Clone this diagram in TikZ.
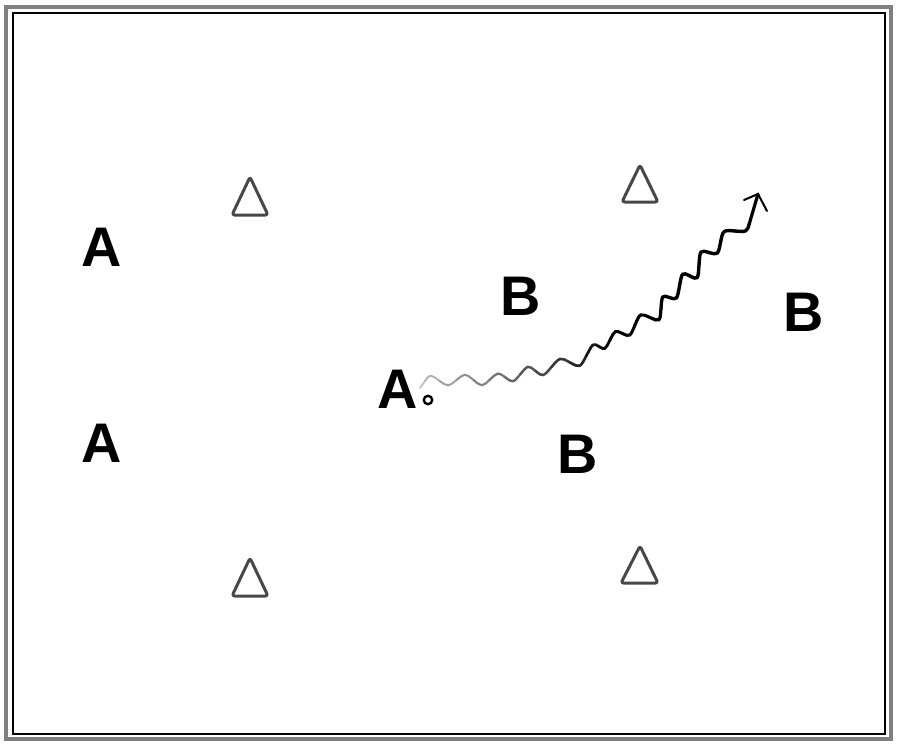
\documentclass[tikz,border=0pt]{standalone}
\usepackage{fontspec}
\setmainfont{Liberation Sans}
\begin{document}
\begin{tikzpicture}[x=1bp,y=-1bp,
  letter/.style={font=\fontsize{56}{56}\selectfont\bfseries, inner sep=0pt},
  cone/.style={draw=black!72, line width=3bp, rounded corners=2.5bp, line join=round}]
\useasboundingbox (0,0) rectangle (900,750);
% frame
\draw[black!50, line width=3.5bp] (6,7) rectangle (891,739);
\draw[black, line width=1.2bp] (13,13) rectangle (885,734);
% players
\node[letter] (a1) at (102,247) {A};
\node[letter] (a2) at (102,443) {A};
\node[letter] (a3) at (398,389) {A};
\node[letter] (b1) at (521,296) {B};
\node[letter] (b2) at (804,312) {B};
\node[letter] (b3) at (578,454) {B};
% ball
\draw[black, line width=2.4bp, fill=white] (428,400) circle (4.2);
% cones
\draw[cone] (250,177) -- (268,215) -- (232,215) -- cycle;
\draw[cone] (640,165) -- (658,202) -- (622,202) -- cycle;
\draw[cone] (250,558) -- (268,596) -- (232,596) -- cycle;
\draw[cone] (640,546) -- (658,583) -- (621,583) -- cycle;
% dribble path
\coordinate (s) at (420,388);
\coordinate (tip) at (758,194);
\draw[black!25, line width=1.8bp, line cap=round] (s) -- (425,381);
\xdef\gPX{430}\xdef\gPY{374}\xdef\gPPX{420}\xdef\gPPY{388}
\foreach \x/\y [count=\i] in
 {448/387,465/373,482/387,498/372,513/383,528/365,543/377,560/357,580/368,
  593/343,605/350,615/330,630/337,640/313,660/322,662/295,677/300,682/272,698/280,
  700/250,718/255,723/230,747/232,752/214}
{
  \pgfmathsetmacro\k{min(100,25+\i*6)}
  \pgfmathsetmacro\w{min(3.4,1.8+\i*0.09)}
  \pgfmathsetmacro\ax{(\gPPX+\gPX)/2}
  \pgfmathsetmacro\ay{(\gPPY+\gPY)/2}
  \pgfmathsetmacro\bx{(\gPX+\x)/2}
  \pgfmathsetmacro\by{(\gPY+\y)/2}
  \draw[black!\k, line width=\w bp, line cap=round] (\ax,\ay) .. controls (\gPX,\gPY) .. (\bx,\by);
  \xdef\gPPX{\gPX}\xdef\gPPY{\gPY}\xdef\gPX{\x}\xdef\gPY{\y}
}
\draw[black, line width=3.2bp, line cap=round] (749.5,223) -- (tip);
\draw[black, line width=2bp, line cap=round, line join=round] (744,200) -- (tip) -- (767,211);
\end{tikzpicture}
\end{document}
